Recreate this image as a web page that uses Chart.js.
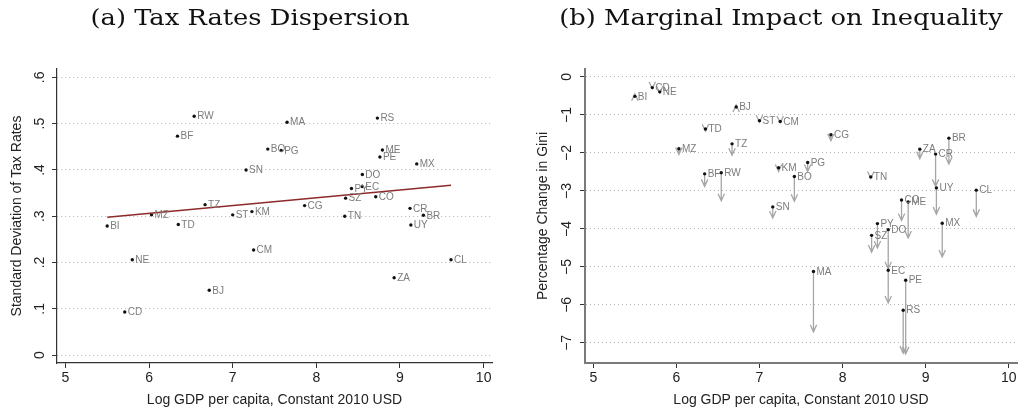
<!DOCTYPE html>
<html>
<head>
<meta charset="utf-8">
<script src="https://cdn.jsdelivr.net/npm/chart.js@4.4.1/dist/chart.umd.min.js"></script>
<style>
  html, body { margin: 0; padding: 0; background: #fff; }
  #wrap { position: relative; width: 1021px; height: 413px; overflow: hidden; }
  canvas { position: absolute; top: 0; }
  #cA { left: 0; }
  #cB { left: 510px; }
  .ttl { position: absolute; top: 4px; font-family: "DejaVu Serif", serif; font-size: 23px; color: #111; white-space: nowrap; transform: translateX(-50%) scaleX(1.12); }
</style>
</head>
<body>
<div id="wrap">
  <canvas id="cA" width="510" height="413"></canvas>
  <canvas id="cB" width="511" height="413"></canvas>
  <div class="ttl" style="left:250px">(a) Tax Rates Dispersion</div>
  <div class="ttl" style="left:781px">(b) Marginal Impact on Inequality</div>
</div>
<script>
// ------- Data -------
const codes = ['BI','CD','NE','MZ','BF','TD','RW','TZ','BJ','ST','SN','KM','CM','BO','PG','MA',
               'CG','TN','SZ','PY','DO','EC','CO','RS','PE','ME','ZA','UY','CR','MX','BR','CL'];
const logGdp = [5.50, 5.71, 5.80, 6.03, 6.34, 6.35, 6.54, 6.67, 6.72, 7.00, 7.16, 7.23, 7.25, 7.42, 7.58, 7.65,
                7.86, 8.34, 8.35, 8.42, 8.55, 8.55, 8.71, 8.73, 8.76, 8.79, 8.93, 9.13, 9.12, 9.20, 9.28, 9.61];
const taxSd = [.279, .093, .206, .303, .473, .282, .516, .325, .140, .303, .400, .310, .227, .445, .442, .503,
               .323, .300, .339, .360, .390, .364, .342, .512, .428, .443, .167, .281, .317, .413, .302, .206];
// change in Gini: start of arrow (dot) and end of arrow (head)
const giniFrom = [-0.51, -0.28, -0.39, -1.89, -2.55, -1.37, -2.52, -1.76, -0.79, -1.15, -3.42, -2.39, -1.17, -2.62, -2.25, -5.12,
                  -1.52, -2.63, -4.17, -3.86, -4.02, -5.09, -3.24, -6.14, -5.35, -3.29, -1.90, -2.92, -2.03, -3.85, -1.61, -2.98];
const giniTo   = [-0.44, -0.31, -0.42, -2.04, -2.88, -1.43, -3.26, -2.06, -0.74, -1.19, -3.71, -2.49, -1.21, -3.27, -2.49, -6.71,
                  -1.68, -2.67, -4.61, -4.50, -5.05, -5.95, -3.78, -7.27, -7.29, -4.24, -2.15, -3.61, -2.88, -4.74, -2.29, -3.67];
// fitted line
const fitX = [5.50, 9.61];
const fitY = [0.298, 0.367];

const xTicks = [5, 6, 7, 8, 9, 10];
const yTicksA = [0, .1, .2, .3, .4, .5, .6];
const yTicksB = [0, -1, -2, -3, -4, -5, -6, -7];

// ------- Helpers -------
const SANS = '"Liberation Sans", Arial, sans-serif';

function pts(xs, ys) { return xs.map((x, i) => ({ x, y: ys[i] })); }

function fmtA(v) { return v === 0 ? '0' : String(v).replace(/^0/, ''); }
function fmtB(v) { return v === 0 ? '0' : '\u2212' + Math.abs(v); }

// rotated y tick labels + axis titles (Stata style)
function axisTextPlugin(yTicks, fmt, labelX, yTitle, titleX) {
    return {
        id: 'axisText',
        afterDraw(chart) {
            const { ctx, chartArea, scales } = chart;
            ctx.save();
            ctx.fillStyle = '#222';
            ctx.font = '14px ' + SANS;
            ctx.textAlign = 'center';
            ctx.textBaseline = 'middle';
            yTicks.forEach(v => {
                const py = scales.y.getPixelForValue(v);
                ctx.save();
                ctx.translate(labelX, py);
                ctx.rotate(-Math.PI / 2);
                ctx.fillText(fmt(v), 0, 0);
                ctx.restore();
            });
            ctx.font = '14px ' + SANS;
            ctx.save();
            ctx.translate(titleX, (chartArea.top + chartArea.bottom) / 2);
            ctx.rotate(-Math.PI / 2);
            ctx.fillText(yTitle, 0, 0);
            ctx.restore();
            ctx.fillText('Log GDP per capita, Constant 2010 USD', (chartArea.left + chartArea.right) / 2, 400);
            ctx.restore();
        }
    };
}

const labelPlugin = {
    id: 'pointLabels',
    afterDatasetsDraw(chart) {
        const { ctx, scales } = chart;
        const ys = chart.options.plugins.pointLabels.ys;
        ctx.save();
        ctx.fillStyle = '#7c7c7c';
        ctx.font = '10px ' + SANS;
        ctx.textAlign = 'left';
        ctx.textBaseline = 'middle';
        codes.forEach((c, i) => {
            ctx.fillText(c, scales.x.getPixelForValue(logGdp[i]) + 3, scales.y.getPixelForValue(ys[i]) + 0.5);
        });
        ctx.restore();
    }
};

const arrowPlugin = {
    id: 'arrows',
    beforeDatasetsDraw(chart) {
        const { ctx, scales } = chart;
        ctx.save();
        ctx.strokeStyle = '#a6a6a6';
        ctx.lineWidth = 1.3;
        codes.forEach((c, i) => {
            const x = scales.x.getPixelForValue(logGdp[i]);
            const y0 = scales.y.getPixelForValue(giniFrom[i]);
            const y1 = scales.y.getPixelForValue(giniTo[i]);
            const dir = y1 > y0 ? 1 : -1;
            ctx.beginPath();
            ctx.moveTo(x, y0);
            ctx.lineTo(x, y1);
            ctx.moveTo(x - 3.2, y1 - dir * 7);
            ctx.lineTo(x, y1);
            ctx.lineTo(x + 3.2, y1 - dir * 7);
            ctx.stroke();
        });
        ctx.restore();
    }
};

function baseOptions(yMin, yMax, yTicks, leftW, padRight, axisColor, axisWidth) {
    return {
        responsive: false,
        animation: false,
        devicePixelRatio: 1,
        layout: { padding: { top: 69, right: padRight, left: 0, bottom: 0 } },
        plugins: { legend: { display: false }, tooltip: { enabled: false } },
        scales: {
            x: {
                type: 'linear', min: 4.9, max: 10.1,
                afterBuildTicks: s => { s.ticks = xTicks.map(v => ({ value: v })); },
                afterFit: s => { s.height = 50; },
                border: { color: axisColor, width: axisWidth },
                grid: { drawOnChartArea: false, drawTicks: true, tickLength: 5, tickColor: '#333', tickWidth: 1 },
                ticks: { color: '#222', font: { family: SANS, size: 14 }, padding: 2, maxRotation: 0 }
            },
            y: {
                type: 'linear', min: yMin, max: yMax,
                afterBuildTicks: s => { s.ticks = yTicks.map(v => ({ value: v })); },
                afterFit: s => { s.width = leftW; },
                border: { color: axisColor, width: axisWidth, dash: [1, 3] },
                grid: { color: '#b4b4b4', lineWidth: 1, drawTicks: true, tickLength: 5,
                        tickColor: '#333', tickBorderDash: [], tickWidth: 1 },
                ticks: { display: false }
            }
        }
    };
}

// ------- Panel (a) -------
const optA = baseOptions(-0.017, 0.618, yTicksA, 57, 18, '#333', 1.2);
optA.plugins.pointLabels = { ys: taxSd };
new Chart(document.getElementById('cA'), {
    type: 'scatter',
    data: {
        datasets: [
            { type: 'line', data: pts(fitX, fitY), borderColor: '#8e2a2a', borderWidth: 1.5, pointRadius: 0 },
            { data: pts(logGdp, taxSd), backgroundColor: '#111', borderWidth: 0, pointRadius: 1.7 }
        ]
    },
    options: optA,
    plugins: [labelPlugin, axisTextPlugin(yTicksA, fmtA, 40, 'Standard Deviation of Tax Rates', 17)]
});

// ------- Panel (b) -------
const optB = baseOptions(-7.53, 0.21, yTicksB, 75, 1, '#7a7a7a', 2);
optB.plugins.pointLabels = { ys: giniFrom };
new Chart(document.getElementById('cB'), {
    type: 'scatter',
    data: {
        datasets: [
            { data: pts(logGdp, giniFrom), backgroundColor: '#111', borderWidth: 0, pointRadius: 1.7 }
        ]
    },
    options: optB,
    plugins: [arrowPlugin, labelPlugin, axisTextPlugin(yTicksB, fmtB, 57, 'Percentage Change in Gini', 33)]
});
</script>
</body>
</html>
